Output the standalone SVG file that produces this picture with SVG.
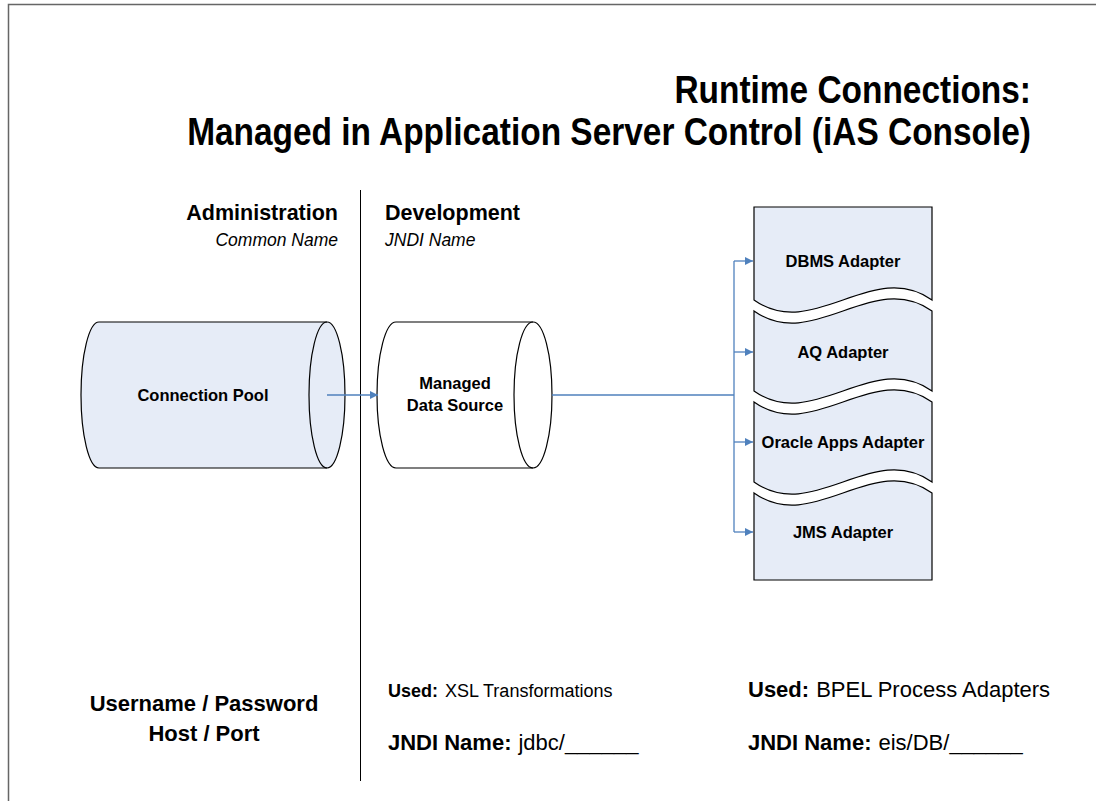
<svg xmlns="http://www.w3.org/2000/svg" width="1096" height="801" viewBox="0 0 1096 801">
  <defs>
    <style>
      .frame{fill:none;stroke:#666;stroke-width:1.5}
      .divider{stroke:#000;stroke-width:1}
      .shape{fill:#E6ECF7;stroke:#000;stroke-width:1.2}
      .white{fill:#fff;stroke:#000;stroke-width:1.2}
      .edge{fill:none;stroke:#000;stroke-width:1.2}
      .conn{fill:none;stroke:#4F81BD;stroke-width:1.3}
      .lbl{font-family:"Liberation Sans",Arial,sans-serif;font-weight:bold;font-size:16.5px;fill:#000;text-anchor:middle}
      .title{font-family:"Liberation Sans",Arial,sans-serif;font-weight:bold;font-size:38px;fill:#000;text-anchor:end}
      .head{font-family:"Liberation Sans",Arial,sans-serif;font-weight:bold;font-size:21.5px;fill:#000}
      .ital{font-family:"Liberation Sans",Arial,sans-serif;font-style:italic;font-size:17.5px;fill:#000}
      .cond{font-family:"Liberation Sans",Arial,sans-serif;font-weight:bold;fill:#000}
      .reg{font-family:"Liberation Sans",Arial,sans-serif;fill:#000}
    </style>
    <marker id="arr" viewBox="0 0 10 10" refX="10" refY="5" markerWidth="8" markerHeight="8" markerUnits="userSpaceOnUse" orient="auto">
      <path d="M0,0 L10,5 L0,10 Z" fill="#4F81BD"/>
    </marker>
  </defs>

  <rect class="frame" x="8.5" y="4.5" width="1100" height="810"/>

  <g id="title" transform="scale(0.88 1)">
    <text class="title" x="1171.6" y="103">Runtime Connections:</text>
    <text class="title" x="1171.6" y="145">Managed in Application Server Control (iAS Console)</text>
  </g>

  <line class="divider" x1="360.5" y1="190" x2="360.5" y2="781"/>

  <g id="headers">
    <text class="head" x="338" y="220" text-anchor="end">Administration</text>
    <text class="ital" x="338" y="246" text-anchor="end">Common Name</text>
    <text class="head" x="385" y="220">Development</text>
    <text class="ital" x="385" y="246">JNDI Name</text>
  </g>

  <g id="connection-pool">
    <path class="shape" d="M99,322 L327,322 A18,73 0 0 1 327,468 L99,468 A18,73 0 0 1 99,322 Z"/>
    <path class="edge" d="M327,322 A18,73 0 0 0 327,468"/>
    <text class="lbl" x="203" y="401">Connection Pool</text>
  </g>

  <g id="managed-data-source">
    <path class="white" d="M396,322 L533,322 A19,73 0 0 1 533,468 L396,468 A19,73 0 0 1 396,322 Z"/>
    <path class="edge" d="M533,322 A19,73 0 0 0 533,468"/>
    <text class="lbl" x="455" y="389">Managed</text>
    <text class="lbl" x="455" y="411">Data Source</text>
  </g>

  <g id="dbms-adapter">
    <path class="shape" d="M754,207 L932,207 L932,300 C873,258 813,342 754,300 Z"/>
    <text class="lbl" x="843" y="267">DBMS Adapter</text>
  </g>
  <g id="aq-adapter">
    <path class="shape" d="M754,311 C813,353 873,269 932,311 L932,391 C873,349 813,433 754,391 Z"/>
    <text class="lbl" x="843" y="358">AQ Adapter</text>
  </g>
  <g id="oracle-apps-adapter">
    <path class="shape" d="M754,402 C813,444 873,360 932,402 L932,482 C873,440 813,524 754,482 Z"/>
    <text class="lbl" x="843" y="448">Oracle Apps Adapter</text>
  </g>
  <g id="jms-adapter">
    <path class="shape" d="M754,493 C813,535 873,451 932,493 L932,580 L754,580 Z"/>
    <text class="lbl" x="843" y="538">JMS Adapter</text>
  </g>

  <g id="connectors">
    <line class="conn" x1="327" y1="395" x2="378" y2="395" marker-end="url(#arr)"/>
    <line class="conn" x1="552" y1="395" x2="734" y2="395"/>
    <line class="conn" x1="734" y1="261" x2="734" y2="532"/>
    <line class="conn" x1="734" y1="261" x2="753" y2="261" marker-end="url(#arr)"/>
    <line class="conn" x1="734" y1="352" x2="753" y2="352" marker-end="url(#arr)"/>
    <line class="conn" x1="734" y1="442" x2="753" y2="442" marker-end="url(#arr)"/>
    <line class="conn" x1="734" y1="532" x2="753" y2="532" marker-end="url(#arr)"/>
  </g>

  <g id="credentials">
    <text class="cond" font-size="22" x="204" y="711" text-anchor="middle">Username / Password</text>
    <text class="cond" font-size="22" x="204" y="741" text-anchor="middle">Host / Port</text>
  </g>

  <g id="xsl-usage">
    <text x="388" y="697"><tspan class="cond" font-size="18">Used:</tspan><tspan class="reg" font-size="18" dx="7">XSL Transformations</tspan></text>
    <text x="388" y="750"><tspan class="cond" font-size="22">JNDI Name:</tspan><tspan class="reg" font-size="22" dx="7">jdbc/______</tspan></text>
  </g>

  <g id="bpel-usage">
    <text x="748" y="697"><tspan class="cond" font-size="22">Used:</tspan><tspan class="reg" font-size="22" dx="7">BPEL Process Adapters</tspan></text>
    <text x="748" y="750"><tspan class="cond" font-size="22">JNDI Name:</tspan><tspan class="reg" font-size="22" dx="7">eis/DB/______</tspan></text>
  </g>
</svg>
